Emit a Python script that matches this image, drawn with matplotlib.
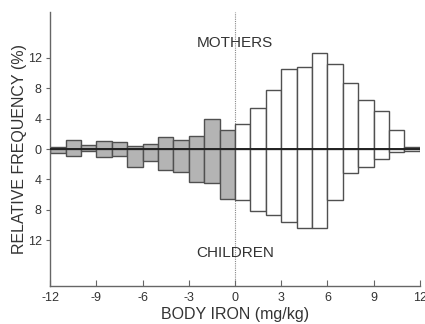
import matplotlib
matplotlib.use("Agg")
import matplotlib.pyplot as plt
import numpy as np

plt.rcParams['font.family'] = ['Liberation Sans', 'DejaVu Sans']

# bin left edges (mg/kg), width 1
bin_edges = list(range(-12, 12))
mothers = [0.3, 1.2, 0.5, 1.0, 0.9, 0.4, 0.6, 1.6, 1.25, 1.7, 4.0, 2.45,
           3.3, 5.35, 7.8, 10.5, 10.8, 12.65, 11.2, 8.7, 6.5, 4.95, 2.45, 0.25]
children = [0.55, 0.95, 0.3, 1.1, 0.95, 2.3, 1.6, 2.7, 3.0, 4.3, 4.4, 6.5,
            6.7, 8.2, 8.7, 9.6, 10.4, 10.4, 6.7, 3.2, 2.4, 1.35, 0.35, 0.25]

x_ticks = [-12, -9, -6, -3, 0, 3, 6, 9, 12]
y_ticks = [-12, -8, -4, 0, 4, 8, 12]

text_col = "#333333"
edge_col = "#505050"

fig = plt.figure(figsize=(4.25, 3.24), dpi=100)
ax = fig.add_axes([0.118, 0.117, 0.870, 0.846])

colors = ["#b4b4b4" if e < 0 else "white" for e in bin_edges]
ax.bar(bin_edges, mothers, width=1, align='edge', color=colors,
       edgecolor=edge_col, linewidth=1.0, zorder=2)
ax.bar(bin_edges, [-v for v in children], width=1, align='edge', color=colors,
       edgecolor=edge_col, linewidth=1.0, zorder=2)

ax.axhline(0, color="#222222", linewidth=1.4, zorder=3)
ax.axvline(0, color="#888888", linewidth=0.8, linestyle=(0, (1, 1)), zorder=1)

ax.text(0, 13.9, "MOTHERS", ha='center', va='center', fontsize=11, color=text_col)
ax.text(0, -13.6, "CHILDREN", ha='center', va='center', fontsize=11, color=text_col)

ax.set_xlim(-12, 12)
ax.set_ylim(-18, 18)
ax.set_xticks(x_ticks)
ax.set_xticklabels([str(t) for t in x_ticks])
ax.set_yticks(y_ticks)
ax.set_yticklabels([str(abs(t)) for t in y_ticks])

for s in ['top', 'right']:
    ax.spines[s].set_visible(False)
for s in ['left', 'bottom']:
    ax.spines[s].set_color("#666666")
    ax.spines[s].set_linewidth(1.0)

ax.tick_params(axis='x', direction='in', length=4, color="#666666",
               labelsize=9, labelcolor=text_col, pad=4)
ax.tick_params(axis='y', direction='out', length=3, color="#666666",
               labelsize=9, labelcolor=text_col, pad=3)

ax.set_xlabel("BODY IRON (mg/kg)", fontsize=11.5, color=text_col, labelpad=2.5)
ax.set_ylabel("RELATIVE FREQUENCY (%)", fontsize=11.5, color=text_col, labelpad=0.5)

fig.savefig("out.png", dpi=100)
